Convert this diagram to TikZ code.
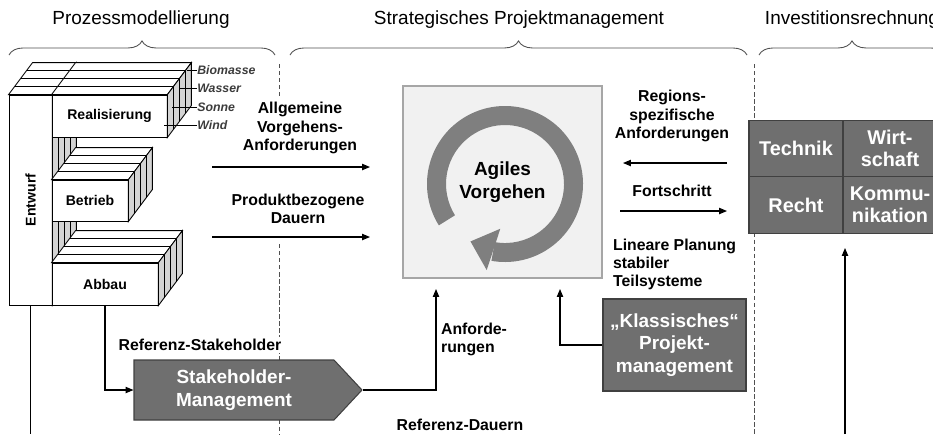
\documentclass[tikz,border=0pt]{standalone}
\usepackage{fontspec}
\setmainfont{Liberation Sans}
\usetikzlibrary{arrows.meta,decorations.pathreplacing,shapes.symbols}
\definecolor{PMDark}{HTML}{6F6F6F}
\definecolor{PMEdge}{HTML}{404040}
\definecolor{PMRing}{HTML}{7F7F7F}
\definecolor{PMPanel}{HTML}{F1F1F1}
\definecolor{PMFrame}{HTML}{A6A6A6}
\definecolor{PMSide}{HTML}{D4D4D4}
\definecolor{PMLayer}{HTML}{3C3C3C}
\definecolor{PMBrace}{HTML}{505050}

\begin{document}
\begin{tikzpicture}[x=0.02cm,y=-0.02cm,
  head/.style={font=\fontsize{10.8}{13}\selectfont},
  brace/.style={PMBrace,line width=0.5pt,decorate,decoration={brace,amplitude=8pt}},
  sep/.style={PMBrace,line width=0.5pt,dash pattern=on 2.5pt off 1.5pt},
  face/.style={draw,fill=white,line width=0.5pt,inner sep=0pt,font=\fontsize{8}{9}\selectfont\bfseries},
  side/.style={draw,line width=0.5pt,fill=PMSide},
  layer/.style={anchor=west,inner sep=0pt,text=PMLayer,font=\fontsize{7}{8}\selectfont\bfseries\itshape},
  lbl/.style={fill=white,inner sep=1pt,align=center,font=\fontsize{9}{10.3}\selectfont\bfseries},
  darkbox/.style={draw=PMEdge,fill=PMDark,text=white,line width=0.6pt,inner sep=0pt,align=center,font=\fontsize{10.8}{12.8}\selectfont\bfseries},
  flow/.style={line width=0.6pt,-{Triangle[length=4.5pt,width=3.6pt]}}]
\useasboundingbox (0,0) rectangle (933,434);
\clip (0,0) rectangle (933,434);

\node[head] (prozess) at (141,20) {Prozessmodellierung};
\node[head] (strateg) at (519,20) {Strategisches Projektmanagement};
\node[head] (invest) at (852,20) {Investitionsrechnung};
\draw[brace] (9,55) -- (275,55);
\draw[brace] (290,55) -- (747,55);
\draw[brace] (759,55) -- (945,55);
\draw[sep] (279,64) -- (279,96);
\draw[sep] (279,244) -- (279,434);
\draw[sep] (754,64) -- (754,434);

\node[face,minimum width=0.86cm,minimum height=4.2cm] (entwurf) at (30.5,200) {\rotatebox{90}{Entwurf}};
\filldraw[side] (entwurf.north east) -- ++(24,-32) -- ([shift={(24,-32)}]entwurf.south east) -- (entwurf.south east) -- cycle;
\filldraw[face] (entwurf.north west) -- ++(24,-32) -- ([shift={(24,-32)}]entwurf.north east) -- (entwurf.north east) -- cycle;
\foreach \k in {1,2,3}
  \draw[line width=0.5pt] ([shift={(6*\k,-8*\k)}]entwurf.north west) -- ([shift={(6*\k,-8*\k)}]entwurf.north east) -- ([shift={(6*\k,-8*\k)}]entwurf.south east);
\node[face,minimum width=2.3cm,minimum height=0.84cm] (real) at (109.5,116) {Realisierung};
\node[face,minimum width=1.52cm,minimum height=0.82cm] (betrieb) at (90,200.5) {Betrieb};
\node[face,minimum width=2.12cm,minimum height=0.84cm] (abbau) at (105,284) {Abbau};
\foreach \arm in {real,betrieb,abbau}{
  \filldraw[face] (\arm.north west) -- ++(24,-32) -- ([shift={(24,-32)}]\arm.north east) -- (\arm.north east) -- cycle;
  \filldraw[side] (\arm.north east) -- ++(24,-32) -- ([shift={(24,-32)}]\arm.south east) -- (\arm.south east) -- cycle;
  \foreach \k in {1,2,3}
    \draw[line width=0.5pt] ([shift={(6*\k,-8*\k)}]\arm.north west) -- ([shift={(6*\k,-8*\k)}]\arm.north east) -- ([shift={(6*\k,-8*\k)}]\arm.south east);
}
\foreach \lay/\y/\k in {Wind/125/0,Sonne/107/1,Wasser/88/2,Biomasse/70/3}{
  \node[layer] (\lay) at (197,\y) {\lay};
  \draw[line width=0.5pt] (\lay.west) -- (164+7.5*\k,\y);
}

\node[lbl] (allg) at (300,128) {Allgemeine\\Vorgehens-\\Anforderungen};
\node[lbl] (prod) at (298,209) {Produktbezogene\\Dauern};
\coordinate (allgfrom) at (212,167);
\coordinate (allgto) at (370,167);
\coordinate (prodfrom) at (212,237);
\coordinate (prodto) at (370,237);
\draw[flow] (allgfrom) -- (allgto);
\draw[flow] (prodfrom) -- (prodto);

\node[draw=PMFrame,fill=PMPanel,line width=0.8pt,minimum width=3.98cm,minimum height=3.84cm,align=center,
  font=\fontsize{10.8}{13.5}\selectfont\bfseries] (agil) at (502.5,182) {Agiles\\Vorgehen};
\begin{scope}[shift={(505,184)}]
\fill[PMRing] (-212:78) arc[start angle=-212,end angle=100,radius=78] -- (100:59) arc[start angle=100,end angle=-212,radius=59] -- cycle;
\fill[PMRing] (96:45) -- (102:88) -- (121:67) -- cycle;
\end{scope}

\node[lbl] (region) at (672,116) {Regions-\\spezifische\\Anforderungen};
\node[lbl] (fort) at (672,191) {Fortschritt};
\coordinate (regionfrom) at (727,163);
\coordinate (regionto) at (623,163);
\coordinate (fortfrom) at (620,211);
\coordinate (fortto) at (727,211);
\draw[flow] (regionfrom) -- (regionto);
\draw[flow] (fortfrom) -- (fortto);
\node[lbl,anchor=west,align=left] (linear) at (611,264) {Lineare Planung\\stabiler\\Teilsysteme};

\node[darkbox,minimum width=2.86cm,minimum height=1.84cm] (klass) at (674.5,345) {„Klassisches“\\Projekt-\\management};
\node[darkbox,signal,signal to=east,signal pointer angle=94,minimum width=4.56cm,minimum height=1.2cm] (stake) at (234,390) {Stakeholder-\\Management};

\node[darkbox,font=\fontsize{11.3}{12.6}\selectfont\bfseries,minimum width=1.88cm,minimum height=1.13cm] (technik) at (796,148.5) {Technik};
\node[darkbox,font=\fontsize{11.3}{12.6}\selectfont\bfseries,minimum width=1.88cm,minimum height=1.13cm] (wirt) at (890,148.5) {Wirt-\\schaft};
\node[darkbox,font=\fontsize{11.3}{12.6}\selectfont\bfseries,minimum width=1.88cm,minimum height=1.13cm] (recht) at (796,205) {Recht};
\node[darkbox,font=\fontsize{11.3}{12.6}\selectfont\bfseries,minimum width=1.88cm,minimum height=1.13cm] (kommu) at (890,205) {Kommu-\\nikation};

\node[lbl] (refstake) at (200,345) {Referenz-Stakeholder};
\node[lbl,anchor=west,align=left] (anford) at (439,339) {Anforde-\\rungen};
\node[lbl] (refdauer) at (460,425) {Referenz-Dauern};
\coordinate (anfin) at (436,289);
\coordinate (klassin) at (560,289);
\coordinate (entwurffoot) at (30.5,434);
\coordinate (investfoot) at (845,434);
\coordinate (investin) at (845,248);
\draw[flow] (abbau.south) |- (stake.west);
\draw[flow] (stake.east) -| (anfin);
\draw[flow] (klass.west) -| (klassin);
\draw[line width=0.6pt] (entwurf.south) -- (entwurffoot);
\draw[flow] (investfoot) -- (investin);
\end{tikzpicture}
\end{document}
